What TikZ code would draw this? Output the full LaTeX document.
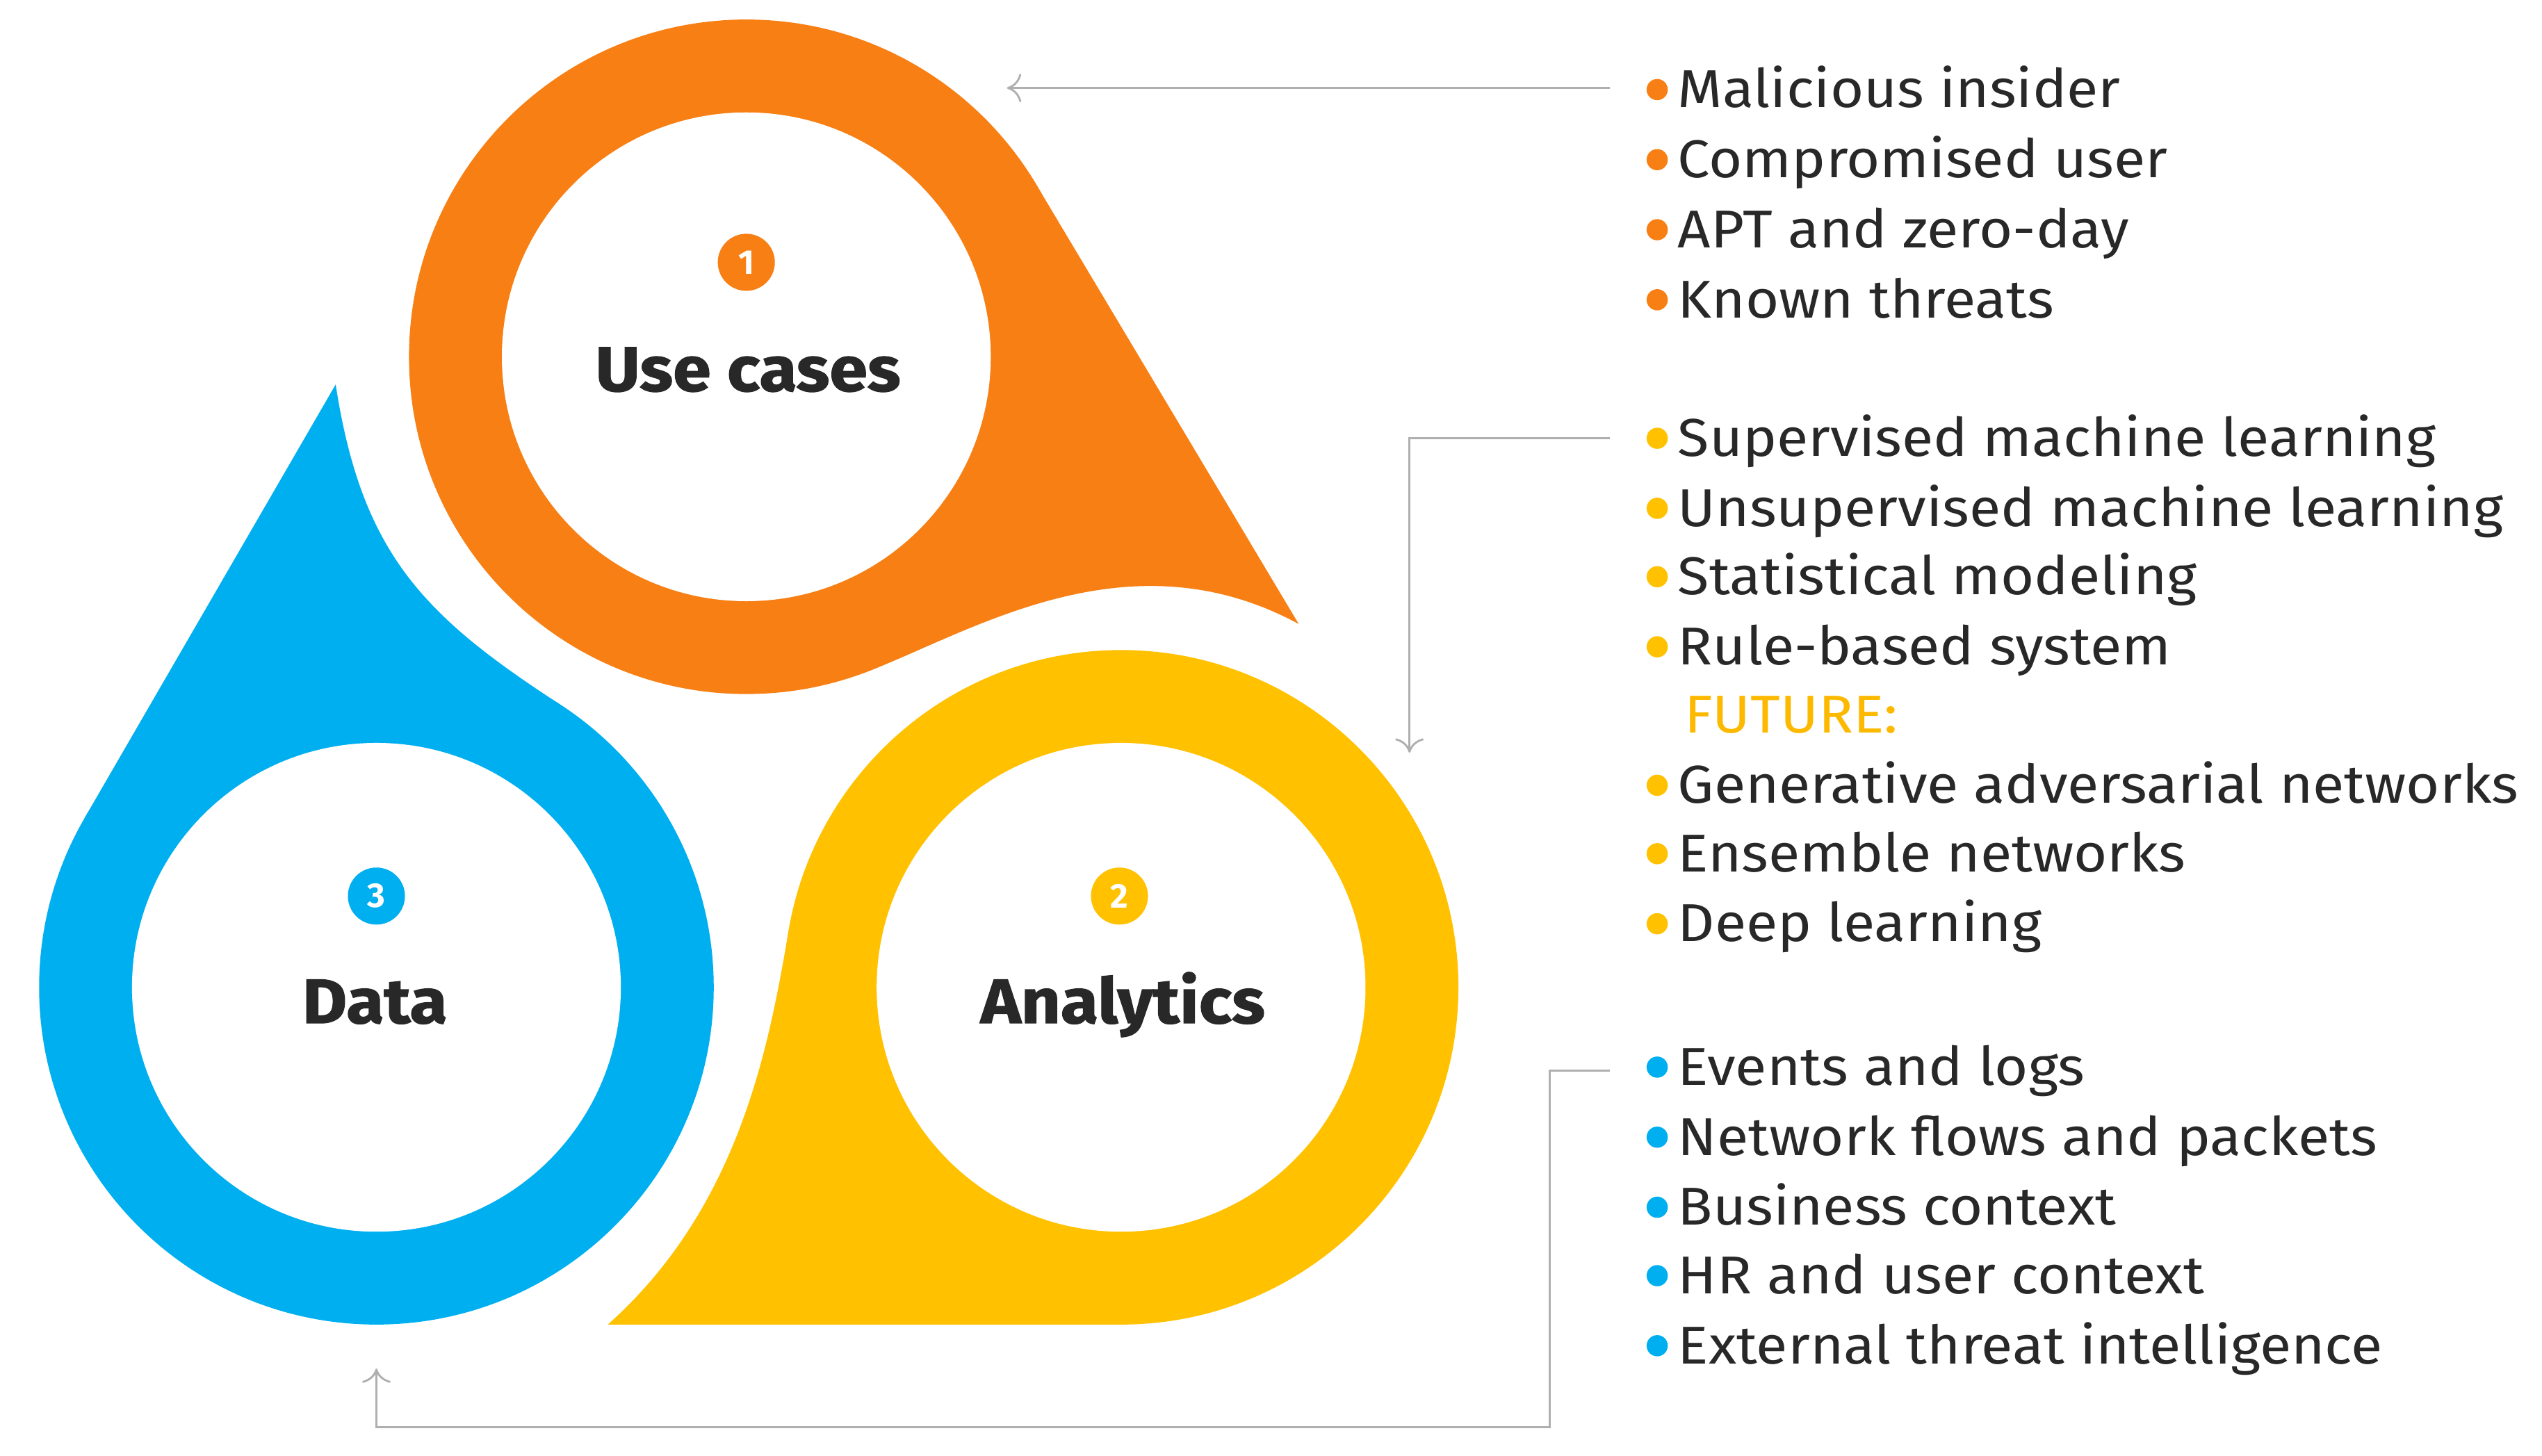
\documentclass[tikz,border=0pt]{standalone}
\usepackage{fontspec}
\setmainfont{Fira Sans}
\newfontfamily\listfont{Fira Sans}[FakeStretch=1.08]
\newfontfamily\titlefont{Fira Sans}[FakeStretch=1.09,FakeBold=1.2]
\usetikzlibrary{arrows.meta}
\definecolor{ucorange}{RGB}{247,127,20}
\definecolor{anyellow}{RGB}{255,193,0}
\definecolor{dtblue}{RGB}{0,175,240}
\definecolor{txtgray}{RGB}{40,40,40}
\definecolor{futureyellow}{RGB}{252,185,0}
\definecolor{linkgray}{RGB}{175,175,175}

\begin{document}
\begin{tikzpicture}[x=0.01cm,y=-0.01cm]
	\tikzstyle{item} = [anchor=base west,inner sep=0pt,text=txtgray,font=\listfont\fontsize{9.3}{10}\selectfont]
	\tikzstyle{dot} = [circle,inner sep=0pt,minimum size=0.13cm]
	\tikzstyle{num} = [circle,inner sep=0pt,minimum size=0.35cm,text=white,font=\bfseries\fontsize{6}{6}\selectfont]
	\tikzstyle{title} = [anchor=base,inner sep=0pt,text=txtgray,font=\titlefont\bfseries\fontsize{11}{12}\selectfont]
	\tikzstyle{link} = [draw=linkgray,line width=0.35pt]
	\tikzstyle{linkarrow} = [link,-{To[length=2.5pt,width=5pt]}]
	\useasboundingbox (0,0) rectangle (1560,893.3);

	% use cases drop
	\fill[ucorange] (458,219) circle (207);
	\fill[ucorange] (635.7,112.9) -- (797,383) .. controls (690,325) and (591.8,390.6) .. (528.8,413.5) -- (458,219) -- cycle;
	\fill[white] (458,219) circle (150);
	% analytics drop
	\fill[anyellow] (688,606) circle (207);
	\fill[anyellow] (373,813) -- (688,813) -- (688,606) -- (484.2,570) .. controls (472.3,639) and (455,740) .. (373,813) -- cycle;
	\fill[white] (688,606) circle (150);
	% data drop
	\fill[dtblue] (231,606) circle (207);
	\fill[dtblue] (206,236) -- (51.8,502.3) -- (231,606) -- (343.7,432.4) .. controls (260,378) and (222,340) .. (206,236) -- cycle;
	\fill[white] (231,606) circle (150);

	\node[num,fill=ucorange] (n1) at (458,161) {1};
	\node[num,fill=anyellow] (n2) at (687,550) {2};
	\node[num,fill=dtblue] (n3) at (231,550) {3};
	\node[title] (t1) at (459,240) {Use cases};
	\node[title] (t2) at (689,628) {Analytics};
	\node[title] (t3) at (230,628) {Data};

	% use cases list
	\node[dot,fill=ucorange] (u1) at (1017,55) {};
	\node[item] (u1t) at (1029,66) {Malicious insider};
	\node[dot,fill=ucorange] (u2) at (1017,98) {};
	\node[item] (u2t) at (1029,109) {Compromised user};
	\node[dot,fill=ucorange] (u3) at (1017,141) {};
	\node[item] (u3t) at (1029,152) {APT and zero-day};
	\node[dot,fill=ucorange] (u4) at (1017,184) {};
	\node[item] (u4t) at (1029,195) {Known threats};

	% analytics list
	\node[dot,fill=anyellow] (a1) at (1017,269) {};
	\node[item] (a1t) at (1029,280) {Supervised machine learning};
	\node[dot,fill=anyellow] (a2) at (1017,312) {};
	\node[item] (a2t) at (1029,323) {Unsupervised machine learning};
	\node[dot,fill=anyellow] (a3) at (1017,354) {};
	\node[item] (a3t) at (1029,365) {Statistical modeling};
	\node[dot,fill=anyellow] (a4) at (1017,397) {};
	\node[item] (a4t) at (1029,408) {Rule-based system};
	\node[item,text=futureyellow] (f0) at (1033,450) {FUTURE:};
	\node[dot,fill=anyellow] (a5) at (1017,482) {};
	\node[item] (a5t) at (1029,493) {Generative adversarial networks};
	\node[dot,fill=anyellow] (a6) at (1017,524) {};
	\node[item] (a6t) at (1029,535) {Ensemble networks};
	\node[dot,fill=anyellow] (a7) at (1017,567) {};
	\node[item] (a7t) at (1029,578) {Deep learning};

	% data list
	\node[dot,fill=dtblue] (d1) at (1017,655) {};
	\node[item] (d1t) at (1029,666) {Events and logs};
	\node[dot,fill=dtblue] (d2) at (1017,698) {};
	\node[item] (d2t) at (1029,709) {Network flows and packets};
	\node[dot,fill=dtblue] (d3) at (1017,741) {};
	\node[item] (d3t) at (1029,752) {Business context};
	\node[dot,fill=dtblue] (d4) at (1017,783) {};
	\node[item] (d4t) at (1029,794) {HR and user context};
	\node[dot,fill=dtblue] (d5) at (1017,826) {};
	\node[item] (d5t) at (1029,837) {External threat intelligence};

	% connectors
	\coordinate (k1) at (988,54);
	\coordinate (k1e) at (618,54);
	\coordinate (k2) at (988,269);
	\coordinate (k2e) at (865,462);
	\coordinate (k3) at (988,657);
	\coordinate (k3e) at (231,840);
	\draw[linkarrow] (k1) -- (k1e);
	\draw[linkarrow] (k2) -| (k2e);
	\draw[linkarrow] (k3) -- (951,657) |- (300,876) -| (k3e);
\end{tikzpicture}
\end{document}
